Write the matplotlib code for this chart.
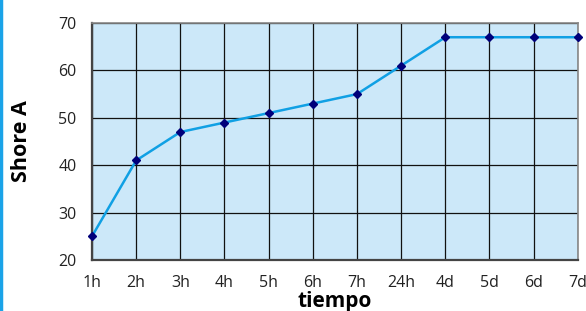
import matplotlib
matplotlib.use("Agg")
import matplotlib.pyplot as plt
from matplotlib.lines import Line2D

categories = ["1h", "2h", "3h", "4h", "5h", "6h", "7h", "24h", "4d", "5d", "6d", "7d"]
shore_a = [25, 41, 47, 49, 51, 53, 55, 61, 67, 67, 67, 67]
y_ticks = [20, 30, 40, 50, 60, 70]

plt.rcParams['font.family'] = ['Open Sans', 'DejaVu Sans']

fig = plt.figure(figsize=(5.86, 3.11), dpi=100)
ax = fig.add_axes([0.157, 0.164, 0.829, 0.762])
ax.set_facecolor("#cce8f9")

x = list(range(len(categories)))
ax.plot(x, shore_a, color="#10a0e4", linewidth=1.8, marker="D", markersize=4,
        markerfacecolor="#00007a", markeredgecolor="#00007a", zorder=3,
        clip_on=False)

ax.set_xlim(0, len(categories) - 1)
ax.set_ylim(20, 70)
ax.set_xticks(x)
ax.set_xticklabels(categories)
ax.set_yticks(y_ticks)
ax.grid(True, color="#111111", linewidth=0.9)
ax.set_axisbelow(True)
ax.tick_params(axis="x", length=0, labelsize=11.5, colors="#222222", pad=11)
ax.tick_params(axis="y", length=0, labelsize=11.5, colors="#222222", pad=11)

for s in ["left", "bottom"]:
    ax.spines[s].set_color("#444444")
    ax.spines[s].set_linewidth(1.6)
for s in ["top", "right"]:
    ax.spines[s].set_color("#888888")
    ax.spines[s].set_linewidth(1.2)

ax.set_xlabel("tiempo", fontsize=15, fontweight="bold")
ax.xaxis.set_label_coords(0.5, -0.13)
ax.set_ylabel("Shore A", fontsize=15.5, fontweight="bold", labelpad=19)

fig.add_artist(Line2D([0.002, 0.002], [0.0, 1.0], color="#1aa3e8", linewidth=2.5))

fig.savefig("out.png", dpi=100)
